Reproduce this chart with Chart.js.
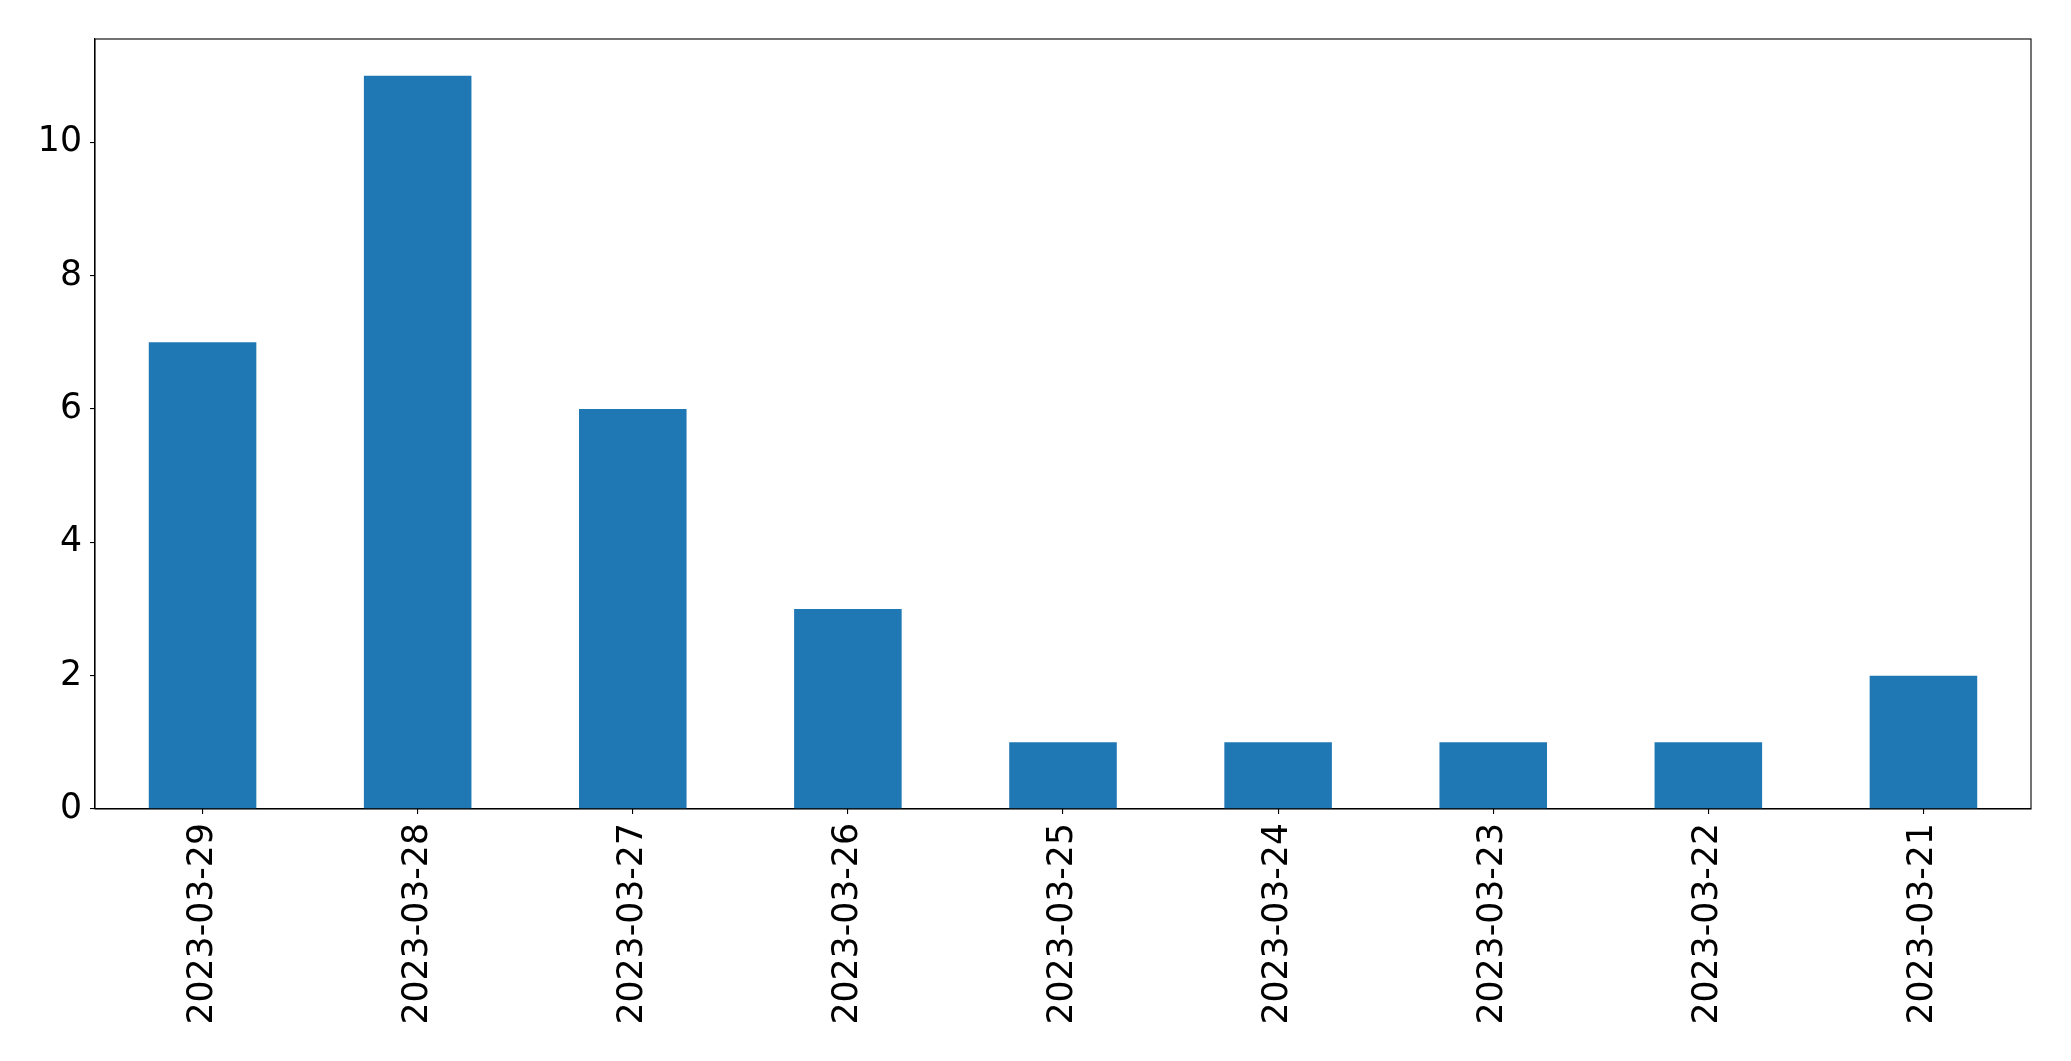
<!DOCTYPE html>
<html>
<head>
<meta charset="utf-8">
<script src="https://cdn.jsdelivr.net/npm/chart.js@4"></script>
<style>
html,body{margin:0;padding:0;background:#fff;}
#wrap{width:2071px;height:1061px;position:relative;}
</style>
</head>
<body>
<div id="wrap"><canvas id="c" width="2071" height="1061"></canvas></div>
<script>
const categories = ["2023-03-29","2023-03-28","2023-03-27","2023-03-26","2023-03-25","2023-03-24","2023-03-23","2023-03-22","2023-03-21"];
const counts = [7, 11, 6, 3, 1, 1, 1, 1, 2];
const yTicks = [0, 2, 4, 6, 8, 10];
const yMax = 11.55;

const frame = {
  id: 'frame',
  afterDraw(chart) {
    const a = chart.chartArea, ctx = chart.ctx;
    ctx.save();
    ctx.strokeStyle = '#000';
    ctx.lineWidth = 1.1;
    ctx.strokeRect(a.left, a.top, a.right - a.left, a.bottom - a.top);
    ctx.restore();
  }
};

const font = { family: 'DejaVu Sans', size: 34.7 };

new Chart(document.getElementById('c'), {
  type: 'bar',
  data: {
    labels: categories,
    datasets: [{ data: counts, backgroundColor: '#1f77b4', borderWidth: 0,
      categoryPercentage: 1.0, barPercentage: 0.5 }]
  },
  options: {
    responsive: false,
    animation: false,
    events: [],
    layout: { padding: { top: 39, right: 40, left: 0, bottom: 0 } },
    plugins: { legend: { display: false }, tooltip: { enabled: false } },
    scales: {
      x: {
        offset: true,
        grid: { offset: false, drawOnChartArea: false, drawTicks: true, tickLength: 5, color: '#000', lineWidth: 1.1 },
        border: { display: true, color: '#000', width: 1.1 },
        ticks: { color: '#000', font: font, minRotation: 90, maxRotation: 90, padding: 9, autoSkip: false },
        afterFit(s) { s.height = 1061 - 809; }
      },
      y: {
        min: 0, max: yMax,
        grid: { drawOnChartArea: false, drawTicks: true, tickLength: 5, color: '#000', lineWidth: 1.1 },
        border: { display: true, color: '#000', width: 1.1 },
        ticks: { color: '#000', font: font, padding: 8 },
        afterBuildTicks(s) { s.ticks = yTicks.map(v => ({ value: v })); },
        afterFit(s) { s.width = 95; }
      }
    }
  },
  plugins: [frame]
});
</script>
</body>
</html>
